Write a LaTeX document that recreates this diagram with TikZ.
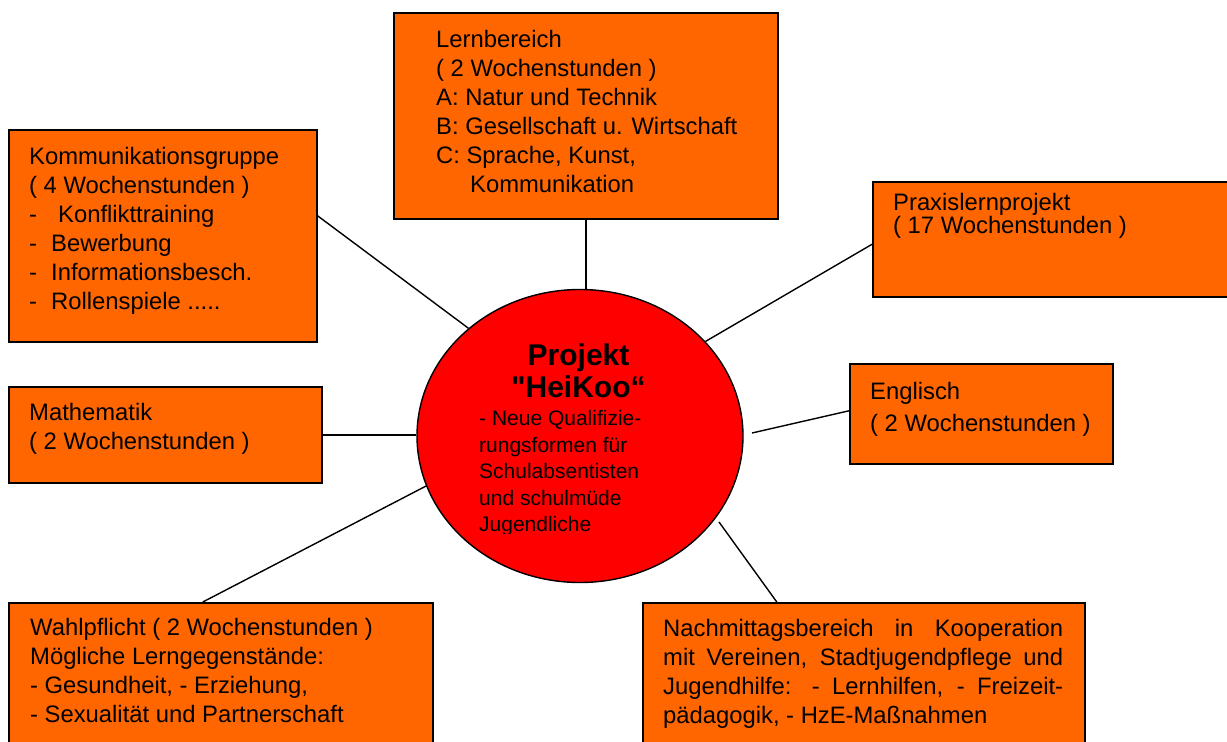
\documentclass[tikz,border=0pt]{standalone}
\usepackage{fontspec}
\setmainfont{Liberation Sans}[Ligatures=TeXOff]
\usetikzlibrary{shapes.geometric}
\definecolor{boxorange}{HTML}{FF6600}
\definecolor{hubred}{HTML}{FF0000}
\tikzset{
  boxnode/.style={draw=black, line width=1.6pt, fill=boxorange, rectangle, inner sep=0pt, anchor=north west},
  txt/.style={anchor=north west, inner sep=0pt, align=left, font=\fontsize{23.8}{29}\selectfont},
  link/.style={draw=black, line width=1.4pt},
}
\newcommand{\fr}{\rule{0pt}{18.5pt}}
\begin{document}
\begin{tikzpicture}[x=1pt,y=-1pt]
\clip (0,0) rectangle (1227,742);
\fill[white] (0,0) rectangle (1227,742);

% boxes
\node[boxnode, minimum width=384pt, minimum height=206pt] (lern) at (393,12) {};
\node[boxnode, minimum width=308pt, minimum height=212pt] (komm) at (8,129) {};
\node[boxnode, minimum width=368pt, minimum height=115pt] (prax) at (872,181) {};
\node[boxnode, minimum width=263pt, minimum height=100pt] (eng) at (849,363) {};
\node[boxnode, minimum width=313pt, minimum height=96pt] (math) at (8,386) {};
\node[boxnode, minimum width=424pt, minimum height=158pt] (wahl) at (8,602) {};
\node[boxnode, minimum width=442pt, minimum height=158pt] (nach) at (642,602) {};

% hub
\node[ellipse, draw=black, line width=1.4pt, fill=hubred, minimum width=326pt, minimum height=293pt, inner sep=0pt] (hub) at (580,436) {};

% free ends
\coordinate (engend) at (752,433);
\coordinate (nachend) at (719,522);

% connectors
\draw[link] (lern.south) -- (lern.south |- hub.north);
\draw[link] ([yshift=20pt]komm.east) -- (hub.136.8);
\draw[link] ([yshift=-5pt]prax.west) -- (hub.37);
\draw[link] ([yshift=3pt]eng.west) -- (engend);
\draw[link] (math.east) -- (math.east -| hub.west);
\draw[link] ([xshift=-18pt]wahl.north) -- (hub.198);
\draw[link] ([xshift=-87pt]nach.north) -- (nachend);

% texts
\node[txt] (lernt) at (436,{47-18.5}) {\fr Lernbereich\\( 2 Wochenstunden )\\A: Natur und Technik\\B: Gesellschaft u. Wirtschaft\\C: Sprache, Kunst,\\\hspace*{34pt}Kommunikation};
\node[txt] (kommt) at (29,{164-18.5}) {\fr Kommunikationsgruppe\\( 4 Wochenstunden )\\\makebox[29pt][l]{-}Konflikttraining\\\makebox[22pt][l]{-}Bewerbung\\\makebox[22pt][l]{-}Informationsbesch.\\\makebox[22pt][l]{-}Rollenspiele .....};
\node[txt, font=\fontsize{23.8}{23}\selectfont] (praxt) at (893,{210-18.5}) {\fr Praxislernprojekt\\( 17 Wochenstunden )};
\node[txt, font=\fontsize{23.8}{32}\selectfont] (engt) at (870,{399-18.5}) {\fr Englisch\\( 2 Wochenstunden )};
\node[txt] (matht) at (29,{420-18.5}) {\fr Mathematik\\( 2 Wochenstunden )};
\node[txt] (wahlt) at (30,{635-18.5}) {\fr Wahlpflicht ( 2 Wochenstunden )\\Mögliche Lerngegenstände:\\- Gesundheit, - Erziehung,\\- Sexualität und Partnerschaft};
\node[txt] (nacht) at (663,{636-18.5}) {\fr\makebox[400pt][s]{Nachmittagsbereich in Kooperation}\\\makebox[400pt][s]{mit Vereinen, Stadtjugendpflege und}\\\makebox[400pt][s]{Jugendhilfe: - Lernhilfen, - Freizeit-}\\pädagogik, - HzE-Maßnahmen};

\node[anchor=north, inner sep=0pt, align=center, font=\fontsize{30}{32.5}\selectfont\bfseries] (title) at (578.5,{365-23}) {\rule{0pt}{23pt}Projekt\\"HeiKoo“};
\begin{scope}
\clip (440,400) rectangle (720,533);
\node[anchor=north west, inner sep=0pt, align=left, font=\fontsize{21}{26.4}\selectfont] (hubt) at (479,{425.7-16.5}) {\rule{0pt}{16.5pt}- Neue Qualifizie-\\rungsformen für\\Schulabsentisten\\und schulmüde\\Jugendliche};
\end{scope}
\end{tikzpicture}
\end{document}
